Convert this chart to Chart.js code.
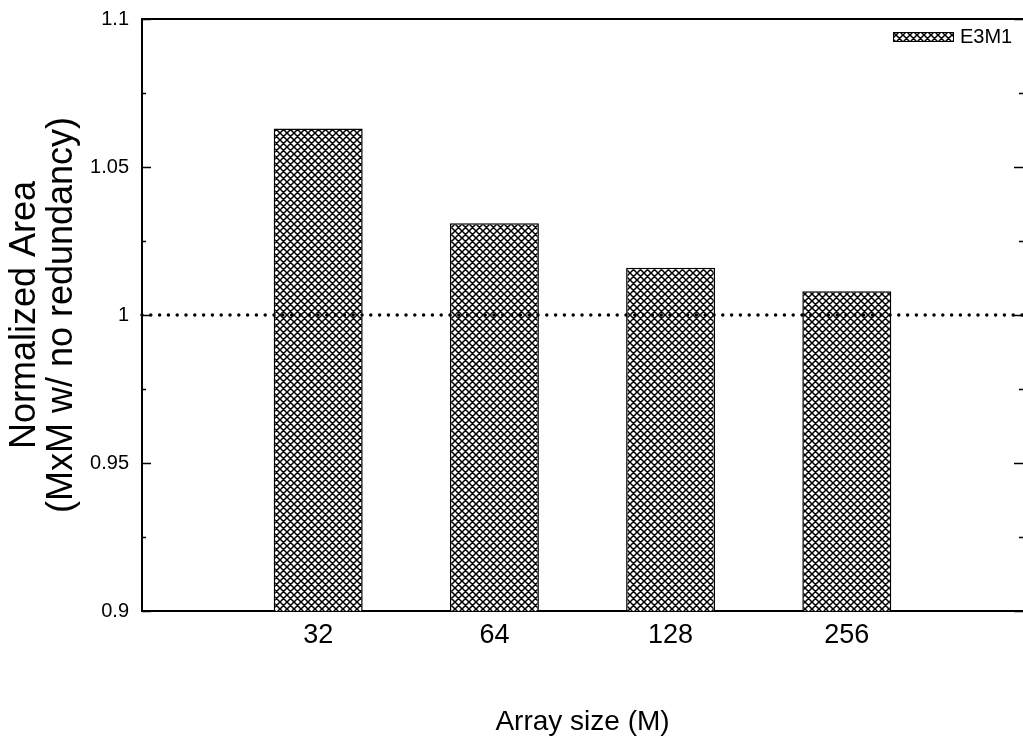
<!DOCTYPE html>
<html>
<head>
<meta charset="utf-8">
<title>Normalized Area</title>
<script src="https://cdn.jsdelivr.net/npm/chart.js@4/dist/chart.umd.min.js"></script>
<style>
  body { margin: 0; background: #fff; }
  canvas { display: block; }
</style>
</head>
<body>
<canvas id="areaChart" width="1023" height="744"></canvas>
<script>
const categories = ["", "32", "64", "128", "256", ""];
const e3m1 = [null, 1.063, 1.031, 1.016, 1.008, null];
const yTicks = [0.9, 0.95, 1, 1.05, 1.1];
const minorTicks = [0.925, 0.975, 1.025, 1.075];
const seriesName = "E3M1";
const refLine = 1;

const fontFamily = "'Liberation Sans', Arial, sans-serif";

// crosshatch fill like the gnuplot pattern
const makeHatch = () => {
  const size = 7;
  const tile = document.createElement("canvas");
  tile.width = size;
  tile.height = size;
  const c = tile.getContext("2d");
  c.fillStyle = "#fff";
  c.fillRect(0, 0, size, size);
  c.strokeStyle = "#000";
  c.lineWidth = 1.5;
  c.beginPath();
  [-size, 0, size].forEach((o) => {
    c.moveTo(o - 1, -1);
    c.lineTo(o + size + 1, size + 1);
    c.moveTo(o - 1, size + 1);
    c.lineTo(o + size + 1, -1);
  });
  c.stroke();
  return c.createPattern(tile, "repeat");
};

const ctx = document.getElementById("areaChart").getContext("2d");
const hatch = makeHatch();

const framePlugin = {
  id: "frame",
  afterDatasetsDraw(chart) {
    const { ctx, chartArea } = chart;
    const y = chart.scales.y;
    ctx.save();
    ctx.strokeStyle = "#000";

    // top border
    ctx.lineWidth = 2;
    ctx.beginPath();
    ctx.moveTo(chartArea.left, chartArea.top);
    ctx.lineTo(chartArea.right, chartArea.top);
    ctx.stroke();

    // inward ticks on both sides
    ctx.lineWidth = 1.5;
    ctx.beginPath();
    yTicks.concat(minorTicks).forEach((v) => {
      const len = yTicks.includes(v) ? 9 : 4;
      const py = Math.round(y.getPixelForValue(v)) + 0.5;
      ctx.moveTo(chartArea.left, py);
      ctx.lineTo(chartArea.left + len, py);
      ctx.moveTo(chartArea.right, py);
      ctx.lineTo(chartArea.right - len, py);
    });
    ctx.stroke();

    // dotted reference line
    const ry = y.getPixelForValue(refLine);
    ctx.lineWidth = 3.5;
    ctx.lineCap = "round";
    ctx.setLineDash([0, 8.8]);
    ctx.beginPath();
    ctx.moveTo(chartArea.left, ry);
    ctx.lineTo(chartArea.right, ry);
    ctx.stroke();
    ctx.setLineDash([]);

    // legend
    const lx = chartArea.right - 130;
    const ly = chartArea.top + 13;
    ctx.fillStyle = hatch;
    ctx.fillRect(lx, ly, 60, 9);
    ctx.lineWidth = 1;
    ctx.lineCap = "butt";
    ctx.strokeRect(lx + 0.5, ly + 0.5, 60, 9);
    ctx.fillStyle = "#000";
    ctx.font = "20px " + fontFamily;
    ctx.textBaseline = "middle";
    ctx.textAlign = "left";
    ctx.fillText(seriesName, lx + 67, ly + 5);
    ctx.restore();
  },
};

const chart = new Chart(ctx, {
  type: "bar",
  data: {
    labels: categories,
    datasets: [
      {
        label: seriesName,
        data: e3m1,
        backgroundColor: hatch,
        borderColor: "#000",
        borderWidth: 1.5,
        borderSkipped: "bottom",
        barPercentage: 0.505,
        categoryPercentage: 1,
      },
    ],
  },
  options: {
    responsive: false,
    animation: false,
    layout: { padding: { top: 19, right: 0, left: 0, bottom: 0 } },
    plugins: {
      legend: { display: false },
      tooltip: { enabled: false },
    },
    scales: {
      x: {
        offset: false,
        grid: { display: false, drawTicks: false },
        border: { display: true, color: "#000", width: 2 },
        ticks: {
          color: "#000",
          font: { family: fontFamily, size: 27 },
          padding: 8,
          maxRotation: 0,
          autoSkip: false,
        },
        title: {
          display: true,
          text: "Array size (M)",
          color: "#000",
          font: { family: fontFamily, size: 28 },
          padding: { top: 0, bottom: 5 },
        },
        afterFit: (scale) => {
          scale.height = 133;
          scale.paddingLeft = 0;
          scale.paddingRight = 0;
        },
      },
      y: {
        min: 0.9,
        max: 1.1,
        grid: { display: false, drawTicks: false },
        border: { display: true, color: "#000", width: 2 },
        ticks: {
          stepSize: 0.05,
          color: "#000",
          font: { family: fontFamily, size: 20 },
          padding: 13,
          callback: (v) => String(+v.toFixed(2)),
        },
        title: {
          display: true,
          text: ["Normalized Area", "(MxM w/ no redundancy)"],
          color: "#000",
          font: { family: fontFamily, size: 36, lineHeight: 1.02 },
          padding: { top: 7, bottom: 0 },
        },
        afterFit: (scale) => {
          scale.width = 142;
          scale.paddingTop = 0;
          scale.paddingBottom = 0;
        },
      },
    },
  },
  plugins: [framePlugin],
});
</script>
</body>
</html>
